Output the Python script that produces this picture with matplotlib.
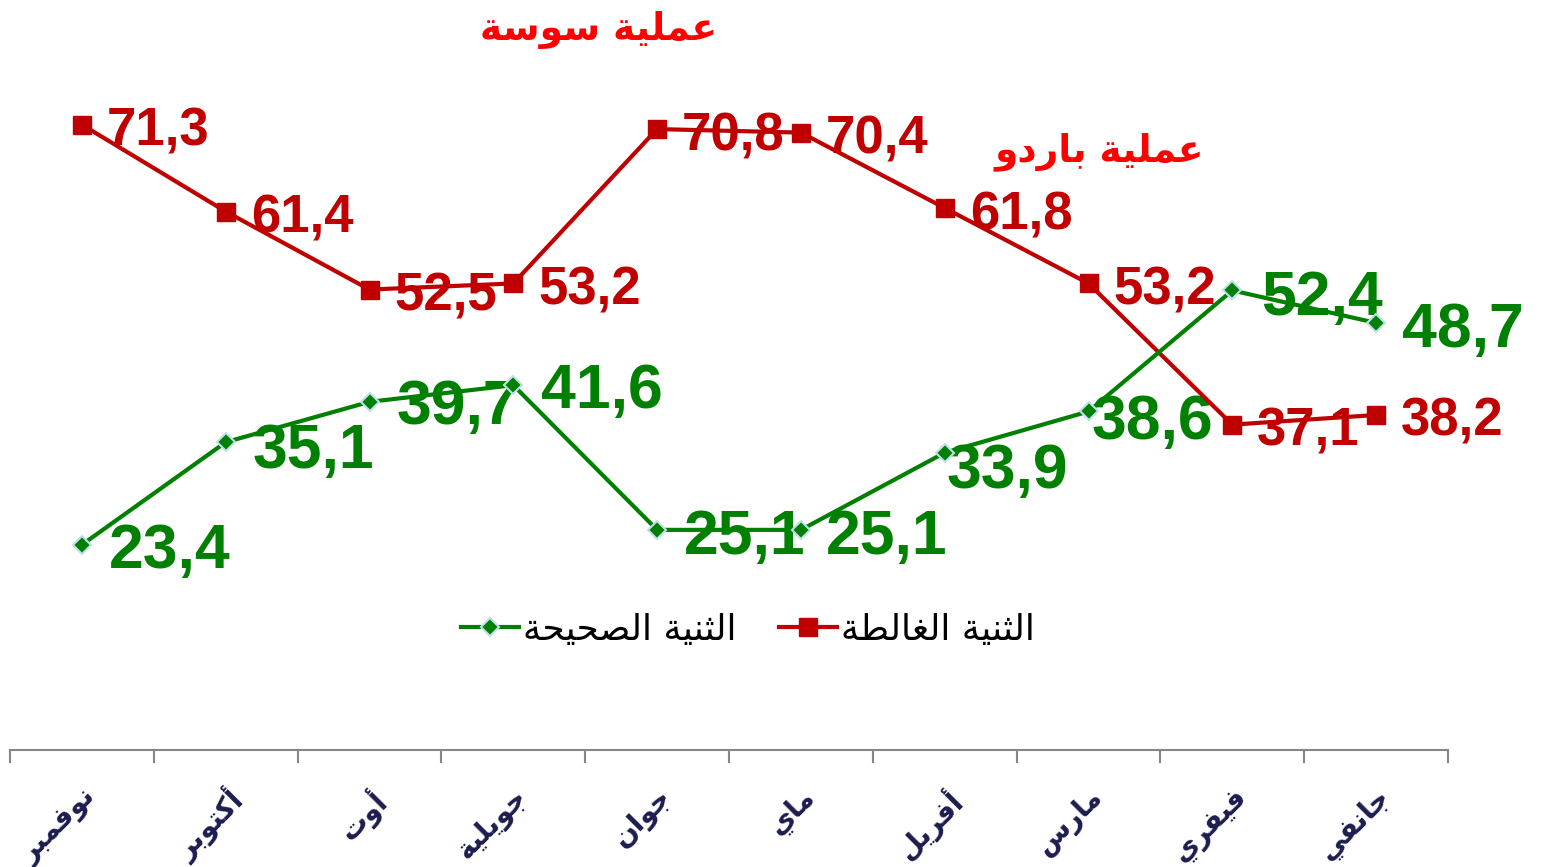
import matplotlib
matplotlib.use("Agg")
import matplotlib.pyplot as plt
from matplotlib.ticker import FixedLocator

# ---------------- data ----------------
months = ["نوفمبر", "أكتوبر", "أوت", "جويلية", "جوان", "ماي", "أفريل", "مارس", "فيفري", "جانفي"]
wrong_turn = [71.3, 61.4, 52.5, 53.2, 70.8, 70.4, 61.8, 53.2, 37.1, 38.2]
right_turn = [23.4, 35.1, 39.7, 41.6, 25.1, 25.1, 33.9, 38.6, 52.4, 48.7]
series_wrong_name = "الثنية الغالطة"
series_right_name = "الثنية الصحيحة"
note_sousse = "عملية سوسة"
note_bardo = "عملية باردو"

# ---------------- simple Arabic shaping (presentation forms, RTL) ----------------
FORMS = {
    'ا': ('\uFE8D', '\uFE8E', None, None),
    'أ': ('\uFE83', '\uFE84', None, None),
    'ب': ('\uFE8F', '\uFE90', '\uFE91', '\uFE92'),
    'ة': ('\uFE93', '\uFE94', None, None),
    'ت': ('\uFE95', '\uFE96', '\uFE97', '\uFE98'),
    'ث': ('\uFE99', '\uFE9A', '\uFE9B', '\uFE9C'),
    'ج': ('\uFE9D', '\uFE9E', '\uFE9F', '\uFEA0'),
    'ح': ('\uFEA1', '\uFEA2', '\uFEA3', '\uFEA4'),
    'د': ('\uFEA9', '\uFEAA', None, None),
    'ر': ('\uFEAD', '\uFEAE', None, None),
    'س': ('\uFEB1', '\uFEB2', '\uFEB3', '\uFEB4'),
    'ص': ('\uFEB9', '\uFEBA', '\uFEBB', '\uFEBC'),
    'ط': ('\uFEC1', '\uFEC2', '\uFEC3', '\uFEC4'),
    'ع': ('\uFEC9', '\uFECA', '\uFECB', '\uFECC'),
    'غ': ('\uFECD', '\uFECE', '\uFECF', '\uFED0'),
    'ف': ('\uFED1', '\uFED2', '\uFED3', '\uFED4'),
    'ك': ('\uFED9', '\uFEDA', '\uFEDB', '\uFEDC'),
    'ل': ('\uFEDD', '\uFEDE', '\uFEDF', '\uFEE0'),
    'م': ('\uFEE1', '\uFEE2', '\uFEE3', '\uFEE4'),
    'ن': ('\uFEE5', '\uFEE6', '\uFEE7', '\uFEE8'),
    'و': ('\uFEED', '\uFEEE', None, None),
    'ي': ('\uFEF1', '\uFEF2', '\uFEF3', '\uFEF4'),
}


def shape(text):
    out = []
    n = len(text)
    for i, ch in enumerate(text):
        if ch not in FORMS:
            out.append(ch)
            continue
        prev = text[i - 1] if i > 0 else None
        nxt = text[i + 1] if i < n - 1 else None
        cp = prev in FORMS and FORMS[prev][2] is not None
        cn = nxt in FORMS and FORMS[ch][2] is not None
        iso, fin, ini, med = FORMS[ch]
        if cp and cn:
            out.append(med)
        elif cp:
            out.append(fin)
        elif cn:
            out.append(ini)
        else:
            out.append(iso)
    return "".join(out)[::-1]


def fmt(v):
    return f"{v:.1f}".replace(".", ",")


# ---------------- styling ----------------
RED = "#C00000"
GREEN = "#008000"
NOTE_RED = "#FF0000"
AXIS_GRAY = "#868686"
MONTH_COLOR = "#1C1C4E"

W, H = 1542, 867
fig = plt.figure(figsize=(W / 100, H / 100), dpi=100)
ax = fig.add_axes([10 / W, 1 - 750 / H, (1448 - 10) / W, (750 - 48.4) / H])

x = list(range(len(months)))

ax.plot(x, wrong_turn, color=RED, lw=3.0, marker="s", markersize=13,
        markerfacecolor=RED, markeredgecolor=RED, label=shape(series_wrong_name), zorder=4)
ax.plot(x, right_turn, color=GREEN, lw=3.0, marker="D", markersize=9.5,
        markerfacecolor=GREEN, markeredgecolor="#BFE0EA", markeredgewidth=1.5,
        label=shape(series_right_name), zorder=4)

# data labels (offsets in pixels from the point to the text's left baseline)
red_off = [(25, -21)] * len(x)
green_off = [(27, -23), (27, -26), (27, -22), (28, -23), (27, -24),
             (25, -24), (2, -35), (3, -28), (29, -25), (26, -24)]
for xi, v, (dx, dy) in zip(x, wrong_turn, red_off):
    ax.annotate(fmt(v), (xi, v), xytext=(dx, dy), textcoords="offset pixels",
                ha="left", va="baseline", color=RED, fontsize=38, fontweight="bold",
                family="Liberation Sans", zorder=3)
for xi, v, (dx, dy) in zip(x, right_turn, green_off):
    ax.annotate(fmt(v), (xi, v), xytext=(dx, dy), textcoords="offset pixels",
                ha="left", va="baseline", color=GREEN, fontsize=45, fontweight="bold",
                family="Liberation Sans", zorder=3)

# notes
fig.text(599 / W, 1 - 30 / H, shape(note_sousse), color=NOTE_RED, fontsize=27,
         fontweight="bold", family="DejaVu Sans", ha="center", va="center")
fig.text(1099 / W, 1 - 152 / H, shape(note_bardo), color=NOTE_RED, fontsize=27,
         fontweight="bold", family="DejaVu Sans", ha="center", va="center")

# axes
ax.set_xlim(-0.5, len(months) - 0.5)
ax.set_ylim(0, 80)
for s in ("left", "right", "top"):
    ax.spines[s].set_visible(False)
ax.spines["bottom"].set_color(AXIS_GRAY)
ax.spines["bottom"].set_linewidth(1.5)
ax.set_yticks([])
ax.set_xticks(x)
ax.set_xticklabels([shape(m) for m in months], rotation=45, ha="right", va="top",
                   rotation_mode="anchor", fontsize=20, fontweight="bold",
                   color=MONTH_COLOR, family="DejaVu Sans")
ax.tick_params(axis="x", which="major", length=0, pad=24)
ax.xaxis.set_minor_locator(FixedLocator([i - 0.5 for i in range(len(months) + 1)]))
ax.tick_params(axis="x", which="minor", length=9, width=1.5, color=AXIS_GRAY, direction="out")

# legend (green first, as in reference)
handles, labels = ax.get_legend_handles_labels()
leg = fig.legend(handles[::-1], labels[::-1], loc="center", bbox_to_anchor=(748 / W, 1 - 630 / H),
                 ncol=2, frameon=False, prop={"family": "DejaVu Sans", "size": 26},
                 handlelength=1.6, columnspacing=1.2, handletextpad=0.1)

fig.savefig("out.png", dpi=100)
